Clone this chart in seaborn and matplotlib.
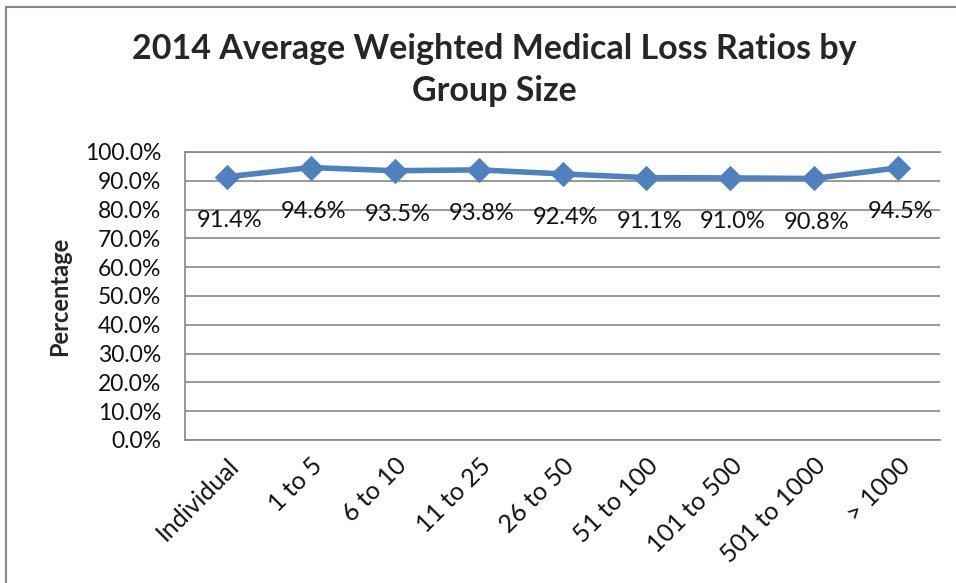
import matplotlib
matplotlib.use("Agg")
import matplotlib.pyplot as plt
import seaborn as sns
import pandas as pd
from matplotlib.patches import Rectangle
from matplotlib.ticker import FuncFormatter

categories = ["Individual", "1 to 5", "6 to 10", "11 to 25", "26 to 50",
              "51 to 100", "101 to 500", "501 to 1000", "> 1000"]
values = [91.4, 94.6, 93.5, 93.8, 92.4, 91.1, 91.0, 90.8, 94.5]
yticks = [0, 10, 20, 30, 40, 50, 60, 70, 80, 90, 100]

sns.set_theme(style="white")
plt.rcParams['font.family'] = ['Lato', 'DejaVu Sans']

df = pd.DataFrame({"x": range(len(categories)), "cat": categories, "v": values})

fig = plt.figure(figsize=(9.56, 5.83), dpi=100)
ax = fig.add_axes([185/956, 1-440/583, 755/956, 288/583])

for t in yticks:
    ax.axhline(t, color="#868686", lw=1.2, zorder=0)

sns.lineplot(data=df, x="x", y="v", ax=ax, color="#4F81BD", lw=4,
             marker="D", markersize=12, markeredgecolor="#4F81BD", zorder=3)

for i, v in enumerate(values):
    ax.annotate(f"{v:.1f}%", (i, v), xytext=(2, -24), textcoords="offset points",
                ha="center", va="top", fontsize=17, color="#111111")

ax.set_xlim(-0.5, len(categories) - 0.5)
ax.set_ylim(0, 100)
ax.set_yticks(yticks)
ax.yaxis.set_major_formatter(FuncFormatter(lambda y, p: f"{y:.1f}%"))
ax.set_xticks(range(len(categories)))
ax.set_xticklabels(categories, rotation=45, ha="right", rotation_mode="anchor",
                   fontsize=18, color="#111111")
ax.tick_params(axis="y", labelsize=16.5, labelcolor="#111111", length=0, pad=17)
ax.tick_params(axis="x", length=0, pad=10)
ax.set_xlabel("")
ax.set_ylabel("Percentage", fontsize=17, fontweight="bold", labelpad=10)
for s in ["left", "bottom", "top", "right"]:
    ax.spines[s].set_color("#868686")
    ax.spines[s].set_linewidth(1.2)
ax.spines["right"].set_visible(False)

fig.text(494/956, 1-49/583, "2014 Average Weighted Medical Loss Ratios by",
         ha="center", va="center", fontsize=24.5, fontweight="bold")
fig.text(494/956, 1-91/583, "Group Size",
         ha="center", va="center", fontsize=24.5, fontweight="bold")

fig.patches.append(Rectangle((6/956, -0.01), 1.0, 1-7/583 + 0.01,
                             transform=fig.transFigure, fill=False,
                             edgecolor="#868686", lw=1.5))

fig.savefig("out.png", dpi=100)
